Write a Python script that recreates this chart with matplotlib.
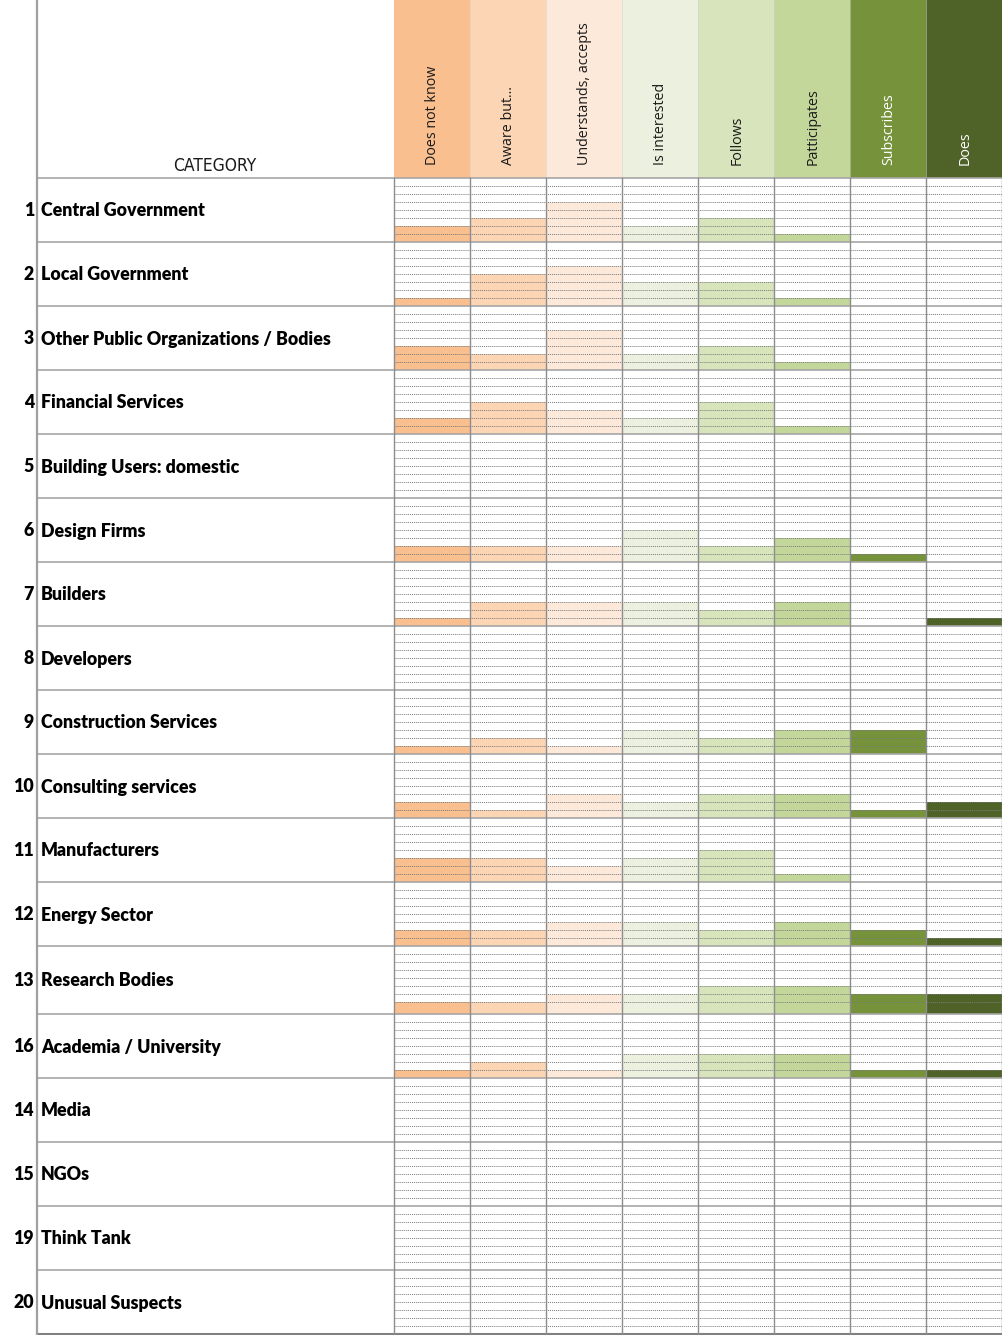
import matplotlib
matplotlib.use("Agg")
import matplotlib.pyplot as plt
from matplotlib.patches import Rectangle

# ---------------- data ----------------
numbers = [1, 2, 3, 4, 5, 6, 7, 8, 9, 10, 11, 12, 13, 16, 14, 15, 19, 20]
categories = ["Central Government", "Local Government",
              "Other Public Organizations / Bodies", "Financial Services",
              "Building Users: domestic", "Design Firms", "Builders", "Developers",
              "Construction Services", "Consulting services", "Manufacturers",
              "Energy Sector", "Research Bodies", "Academia / University",
              "Media", "NGOs", "Think Tank", "Unusual Suspects"]
stages = ["Does not know", "Aware but...", "Understands, accepts", "Is interested",
          "Follows", "Patticipates", "Subscribes", "Does"]
# level (number of sub-rows filled, 0-8) per category, per stage
does_not_know = [2, 1, 3, 2, 0, 2, 1, 0, 1, 2, 3, 2, 1, 1, 0, 0, 0, 0]
aware_but     = [3, 4, 2, 4, 0, 2, 3, 0, 2, 1, 3, 2, 1, 2, 0, 0, 0, 0]
understands   = [5, 5, 5, 3, 0, 2, 3, 0, 1, 3, 2, 3, 2, 1, 0, 0, 0, 0]
is_interested = [2, 3, 2, 2, 0, 4, 3, 0, 3, 2, 3, 3, 2, 3, 0, 0, 0, 0]
follows       = [3, 3, 3, 4, 0, 2, 2, 0, 2, 3, 4, 2, 3, 3, 0, 0, 0, 0]
participates  = [1, 1, 1, 1, 0, 3, 3, 0, 3, 3, 1, 3, 3, 3, 0, 0, 0, 0]
subscribes    = [0, 0, 0, 0, 0, 1, 0, 0, 3, 1, 0, 2, 2, 1, 0, 0, 0, 0]
does          = [0, 0, 0, 0, 0, 0, 1, 0, 0, 2, 0, 1, 2, 1, 0, 0, 0, 0]
series = [does_not_know, aware_but, understands, is_interested,
          follows, participates, subscribes, does]

# ---------------- style / layout ----------------
colors = ["#FABF8F", "#FCD5B4", "#FDE9D9", "#EBF1DE",
          "#D8E4BC", "#C4D79B", "#76933C", "#4F6228"]
header_text_colors = ["#1a1a1a"] * 6 + ["white", "white"]

W, H = 1003, 1335
HEADER = 178
COL0 = 394
COLW = 76
NUM_X = 37

def sub_heights(cat):
    # sub-row heights (px) from top to bottom; Research Bodies has a taller last row
    if cat == "Research Bodies":
        return [8] * 7 + [12]
    return [8] * 8

fig = plt.figure(figsize=(W / 100, H / 100), dpi=100)
ax = fig.add_axes([0, 0, 1, 1])
ax.set_xlim(0, W)
ax.set_ylim(H, 0)
ax.axis("off")

grid_c = "#8c8c8c"
row_line_c = "#a6a6a6"
right = COL0 + COLW * len(stages)
label_font = ["Lato", "DejaVu Sans"]

# header cells
for i, (s, c) in enumerate(zip(stages, colors)):
    x0 = COL0 + i * COLW
    ax.add_patch(Rectangle((x0, 0), COLW, HEADER, facecolor=c, edgecolor="none", zorder=1))
    ax.text(x0 + COLW / 2 + 1, HEADER - 13, s, rotation=90, ha="center", va="bottom",
            fontsize=10.3, family=["Open Sans", "DejaVu Sans"],
            color=header_text_colors[i], zorder=5)
    if i > 0:
        ax.plot([x0, x0], [0, HEADER], color="#d0d0d0", lw=0.6, alpha=0.6, zorder=2)

ax.text((NUM_X + COL0) / 2 - 1, HEADER - 3, "CATEGORY", ha="center", va="bottom",
        fontsize=12.5, family="DejaVu Sans", fontstretch="condensed",
        color="#1a1a1a")

# blocks
y = HEADER
for r, (num, cat) in enumerate(zip(numbers, categories)):
    hs = sub_heights(cat)
    bh = sum(hs)
    top, bottom = y, y + bh
    for i, vals in enumerate(series):
        n = vals[r]
        if n > 0:
            h = sum(hs[len(hs) - n:])
            ax.bar(COL0 + i * COLW, h, width=COLW, bottom=bottom - h, align="edge",
                   color=colors[i], edgecolor="none", zorder=2)
    yy = top
    for h in hs[:-1]:
        yy += h
        ax.plot([COL0, right], [yy, yy], color="#7a7a7a", lw=0.7,
                linestyle=(0, (1, 1)), zorder=3)
    ax.text(NUM_X - 3, (top + bottom) / 2 + 1, str(num), ha="right", va="center",
            fontsize=12.8, fontweight="heavy", family=label_font, color="black")
    ax.text(NUM_X + 4, (top + bottom) / 2 + 1, cat, ha="left", va="center",
            fontsize=12.8, fontweight="heavy", family=label_font, color="black")
    ax.plot([NUM_X, right], [bottom, bottom], color=row_line_c, lw=1.2, zorder=4)
    y = bottom

end_y = y
ax.plot([NUM_X, right], [HEADER, HEADER], color=row_line_c, lw=1.2, zorder=4)
ax.plot([NUM_X, right], [end_y, end_y], color="#808080", lw=2.2, zorder=4)
ax.plot([NUM_X, NUM_X], [0, end_y], color="#a0a0a0", lw=1.6, zorder=4)
for i in range(len(stages) + 1):
    x0 = COL0 + i * COLW
    ax.plot([x0, x0], [HEADER, end_y], color=grid_c, lw=1.0, zorder=4)

fig.savefig("out.png", dpi=100)
